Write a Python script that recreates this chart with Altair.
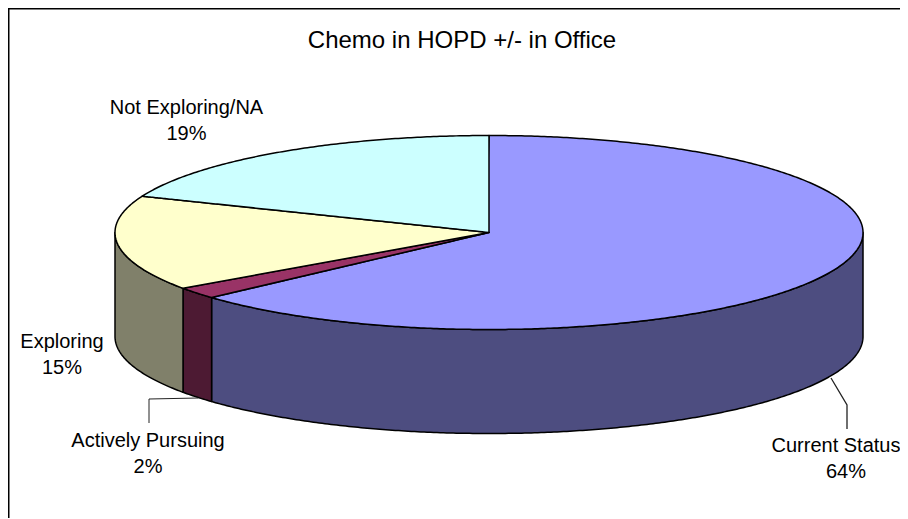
import numpy as np
import pandas as pd
import altair as alt

# Values
slices = ["Current Status", "Actively Pursuing", "Exploring", "Not Exploring/NA"]
shares = [63.3, 1.95, 15.85, 18.9]          # angular share
percent_labels = ["64%", "2%", "15%", "19%"]
top_colors = ["#9999FF", "#993366", "#FFFFCC", "#CCFFFF"]
side_colors = ["#4D4D80", "#4D1A33", "#80806A", "#668080"]

# Layout (page pixels)
W, H = 892, 510
CX, CY, RX, RY, DEPTH = 489.0, 232.5, 374.0, 97.0, 104.0
XS = alt.Scale(domain=[8, 8 + W], nice=False, zero=False)
YS = alt.Scale(domain=[8 + H, 8], nice=False, zero=False)


def rim(deg):
    t = np.radians(deg)
    return CX + RX * np.sin(t), CY - RY * np.cos(t)


def wedge_rows(name, a, b):
    """Vertical spans of a wedge of the top ellipse, for an area mark."""
    angles = np.arange(a, b, 0.5)
    angles = np.append(angles, b)
    px, py = rim(angles)
    px = np.concatenate([[CX], px, [CX]])
    py = np.concatenate([[CY], py, [CY]])
    xs = np.unique(np.concatenate([px, [px.min() + 0.01, px.max() - 0.01]]))
    rows = []
    for x in xs:
        ys = []
        for i in range(len(px) - 1):
            x0, x1, y0, y1 = px[i], px[i + 1], py[i], py[i + 1]
            if x0 == x1:
                if x == x0:
                    ys += [y0, y1]
            elif min(x0, x1) <= x <= max(x0, x1):
                ys.append(y0 + (y1 - y0) * (x - x0) / (x1 - x0))
        if ys:
            rows.append({"slice": name, "x": x, "y": min(ys), "y2": max(ys)})
    return rows


def side_rows(name, a, b):
    """Visible outer wall of a slice (front half of the rim only)."""
    a, b = max(a, 90.0), min(b, 270.0)
    if a >= b:
        return []
    angles = np.append(np.arange(a, b, 0.5), b)
    px, py = rim(angles)
    return [{"slice": name, "x": x, "y": y, "y2": y + DEPTH} for x, y in zip(px, py)]


edges = np.concatenate([[0], np.cumsum(shares)]) * 360 / sum(shares)
top, side = [], []
for i, name in enumerate(slices):
    top += wedge_rows(name, edges[i], edges[i + 1])
    side += side_rows(name, edges[i], edges[i + 1])

color_for = lambda cols: alt.Color("slice:N", scale=alt.Scale(domain=slices, range=cols), legend=None)


def areas(rows, cols):
    return alt.Chart(pd.DataFrame(rows)).mark_area(
        stroke="black", strokeWidth=1.5, strokeJoin="round", orient="vertical", opacity=1
    ).encode(
        x=alt.X("x:Q", scale=XS, axis=None),
        y=alt.Y("y:Q", scale=YS, axis=None),
        y2="y2:Q",
        color=color_for(cols),
    )


# Frame (left and top edges; the others fall outside the picture) and leader lines
lines = pd.DataFrame({
    "id":  ["f", "f", "f", "c", "c", "c", "a", "a", "a"],
    "x":   [8.5, 8.5, 900, 831, 847, 847, 198, 149, 149],
    "y":   [518, 8.5, 8.5, 378, 405, 429, 398, 399, 423],
    "ord": [0, 1, 2, 0, 1, 2, 0, 1, 2],
})
line_layer = alt.layer(*[
    alt.Chart(lines[lines.id == k]).mark_line(color=c, strokeWidth=w, interpolate="linear").encode(
        x=alt.X("x:Q", scale=XS, axis=None),
        y=alt.Y("y:Q", scale=YS, axis=None),
        order="ord:Q",
    )
    for k, c, w in [("f", "black", 2), ("c", "#222222", 1.3), ("a", "#222222", 1)]
])

# Texts
name_x = [836, 148, 62, 186.5]
pct_x = [846, 148, 62, 186.5]
label_y = [446, 441, 342, 108]
text_rows = []
for name, pct, xn, xp, y in zip(slices, percent_labels, name_x, pct_x, label_y):
    text_rows.append({"t": name, "x": xn, "y": y})
    text_rows.append({"t": pct, "x": xp, "y": y + 26})
labels = alt.Chart(pd.DataFrame(text_rows)).mark_text(
    font="Liberation Sans", fontSize=20, color="black", align="center", baseline="middle"
).encode(
    x=alt.X("x:Q", scale=XS, axis=None),
    y=alt.Y("y:Q", scale=YS, axis=None),
    text="t:N",
)
title = alt.Chart(pd.DataFrame([{"t": "Chemo in HOPD +/- in Office", "x": 462, "y": 41}])).mark_text(
    font="Liberation Sans", fontSize=24, color="black", align="center", baseline="middle"
).encode(
    x=alt.X("x:Q", scale=XS, axis=None),
    y=alt.Y("y:Q", scale=YS, axis=None),
    text="t:N",
)

chart = alt.layer(
    areas(side, side_colors),
    areas(top, top_colors),
    line_layer,
    labels,
    title,
).resolve_scale(color="independent").properties(
    width=W, height=H, padding=0, background="white", autosize=alt.AutoSizeParams(type="none")
).configure_view(stroke=None)

chart.save("out.html", embed_options={"renderer": "svg", "actions": False})
